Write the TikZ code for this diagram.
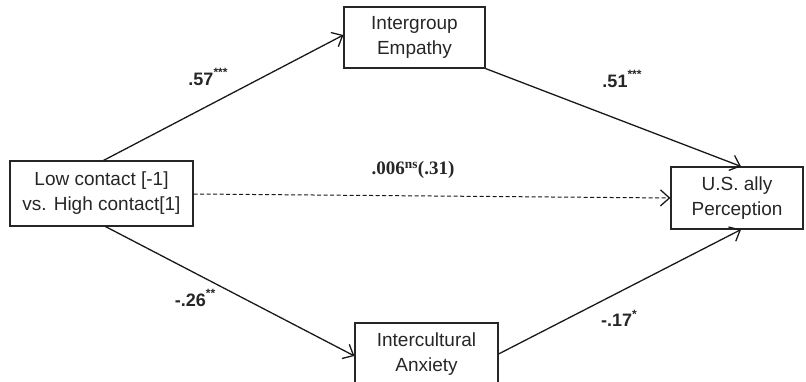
\documentclass[tikz,border=0pt]{standalone}
\usepackage{fontspec}
\setmainfont{Liberation Sans}
\newfontfamily\serifbold{Liberation Serif}
\usetikzlibrary{arrows.meta}
\newcommand{\starsup}[1]{\raisebox{0.45em}{\fontsize{12}{12}\selectfont #1}}
\begin{document}
\begin{tikzpicture}[x=1pt,y=-1pt,
  box/.style={draw=black!85,line width=1.1pt,rectangle,align=center,inner sep=0pt,
    font=\fontsize{19}{25}\selectfont,text=black!85},
  conn/.style={line width=1.3pt,draw=black!90,-{Straight Barb[length=9pt,width=16pt,line width=1.3pt]}},
  lab/.style={font=\fontsize{18}{20}\selectfont\bfseries,text=black!85,inner sep=0pt}]
\useasboundingbox (0,0) rectangle (806,382);
\begin{scope}
\clip (0,0) rectangle (806,382);
\node[box,minimum width=183pt,minimum height=65pt] (L) at (101.5,193.5) {Low contact [-1]\\vs. High contact[1]};
\node[box,minimum width=141pt,minimum height=61pt] (E) at (414.5,37.5) {Intergroup\\Empathy};
\node[box,minimum width=143pt,minimum height=63pt] (A) at (426.5,354.5) {Intercultural\\Anxiety};
\node[box,minimum width=132pt,minimum height=62pt] (U) at (737,198) {U.S. ally\\Perception};
\end{scope}
\draw[conn] ([xshift=2pt]L.north) -- ([yshift=2.5pt]E.west);
\draw[conn] (E.south east) -- ([xshift=4pt]U.north);
\draw[conn] ([xshift=4pt]L.south) -- ([yshift=-1.5pt]A.west);
\draw[conn] ([yshift=0.5pt]A.east) -- ([xshift=4pt]U.south);
\draw[conn,dashed,dash pattern=on 4pt off 2.5pt,line width=1pt] ([yshift=-0.5pt]L.east) -- (U.west);
\node[lab] (l1) at (208,77) {.57\starsup{***}};
\node[lab] (l2) at (622,79) {.51\starsup{***}};
\node[lab] (l3) at (195,298) {-.26\starsup{**}};
\node[lab] (l4) at (619,318) {-.17\starsup{*}};
\node[inner sep=0pt,text=black!85,font=\serifbold\fontsize{19}{21}\selectfont\bfseries] (l5) at (413,170) {.006\textsuperscript{ns}(.31)};
\end{tikzpicture}
\end{document}
